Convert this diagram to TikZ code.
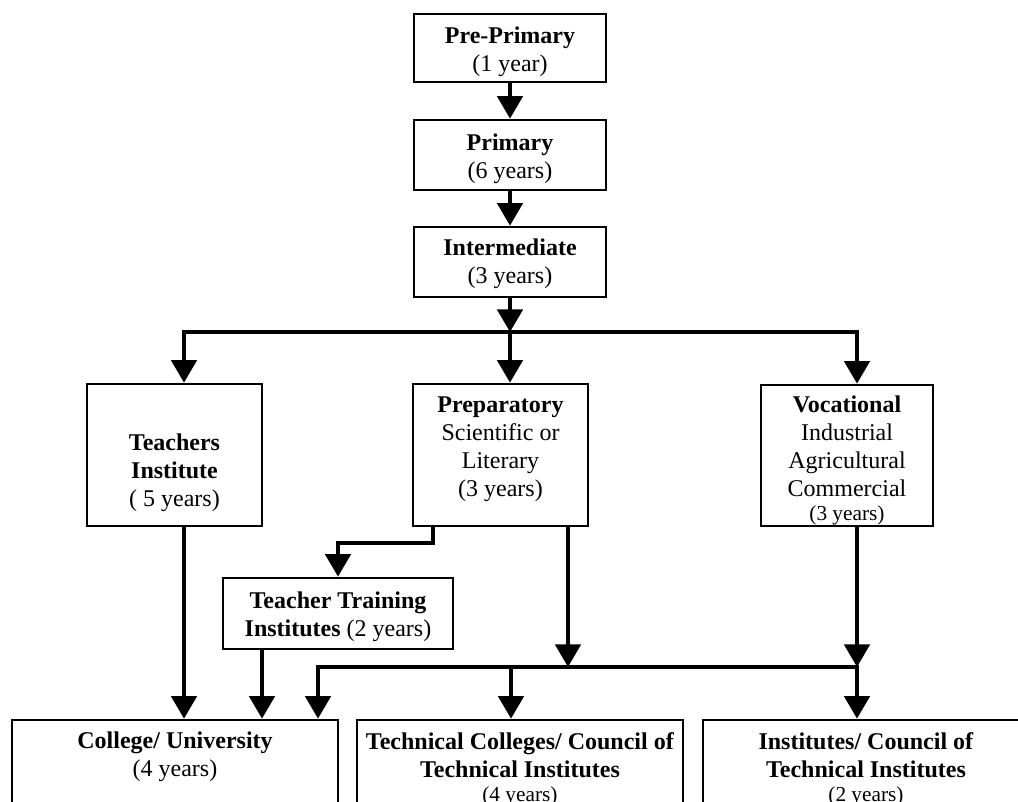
\documentclass[tikz,border=0pt]{standalone}
\usepackage{fontspec}
\setmainfont{Liberation Serif}
\usetikzlibrary{arrows.meta,fit}
\begin{document}
\begin{tikzpicture}[x=0.75pt,y=-0.75pt,
  box/.style={draw,line width=2pt,inner sep=0pt},
  txt/.style={align=center,inner sep=0pt,font=\fontsize{18}{21}\selectfont},
  link/.style={line width=3pt,line join=miter},
  arr/.style={link,-{Triangle[length=17pt,width=19pt]}},
  arrboth/.style={link,{Triangle[length=17pt,width=19pt]}-{Triangle[length=17pt,width=19pt]}}]
\newcommand\smallyears{\fontsize{16}{19}\selectfont}
\path[use as bounding box] (0,0) rectangle (1018,801);
\clip (0,0) rectangle (1018,801);

% upper chain
\node[box, fit={(414,14) (606,82)}] (pre) {};
\node[txt] (pre-t) at (510,52) {\textbf{Pre-Primary}\\(1 year)};
\node[box, fit={(414,120) (606,190)}] (prim) {};
\node[txt] (prim-t) at (510,159) {\textbf{Primary}\\(6 years)};
\node[box, fit={(414,227) (606,297)}] (inter) {};
\node[txt] (inter-t) at (510,264) {\textbf{Intermediate}\\(3 years)};

% secondary streams
\node[box, fit={(87,384) (262,526)}] (teach) {};
\node[txt] (teach-t) at (174.5,473) {\textbf{Teachers}\\\textbf{Institute}\\( 5 years)};
\node[box, fit={(413,384) (588,526)}] (prep) {};
\node[txt] (prep-t) at (500.5,449) {\textbf{Preparatory}\\Scientific or\\Literary\\(3 years)};
\node[box, fit={(761,385) (933,526)}] (voc) {};
\node[txt] (voc-t) at (847,460) {\textbf{Vocational}\\Industrial\\Agricultural\\Commercial\\[-3pt]{\smallyears (3 years)}};
\node[box, fit={(223,578) (453,649)}] (tt) {};
\node[txt] (tt-t) at (338,617) {\textbf{Teacher Training}\\\textbf{Institutes} (2 years)};

% higher education
\node[box, fit={(12,720) (338,850)}] (col) {};
\node[txt] (col-t) at (175,757) {\textbf{College/ University}\\(4 years)};
\node[box, fit={(357,720) (683,850)}] (tc) {};
\node[txt] (tc-t) at (520,769) {\textbf{Technical Colleges/ Council of}\\\textbf{Technical Institutes}\\[-3pt]{\smallyears (4 years)}};
\node[box, fit={(703,720) (1030,850)}] (inst) {};
\node[txt] (inst-t) at (866,769) {\textbf{Institutes/ Council of}\\\textbf{Technical Institutes}\\[-3pt]{\smallyears (2 years)}};

% junction points
\coordinate (cT) at (184,332);
\coordinate (cM) at (510,332);
\coordinate (cV) at (857,332);
\coordinate (tA) at (433,543);
\coordinate (bL) at (318,667);
\coordinate (bT) at (511,667);
\coordinate (bP) at (568,667);
\coordinate (bR) at (857,667);
\coordinate (tB) at (262,700);

% connectors
\draw[arr] (pre.south) -- (prim.north);
\draw[arr] (prim.south) -- (inter.north);
\draw[arr] (inter.south) -- (cM);
\draw[arr] (cM) -- (cM |- prep.north);
\draw[arrboth] (cT |- teach.north) -- (cT) -- (cV) -- (cV |- voc.north);
\draw[arr] (prep.south -| tA) -- (tA) -| (tt.north);
\draw[arr] (teach.south -| cT) -- (cT |- col.north);
\draw[arr] (tt.south -| tB) -- (tB |- col.north);
\draw[arr] (prep.south -| bP) -- (bP);
\draw[arr] (voc.south -| bR) -- (bR);
\draw[arrboth] (bL |- col.north) -- (bL) -- (bR) -- (bR |- inst.north);
\draw[arr] (bT) -- (bT |- tc.north);
\end{tikzpicture}
\end{document}
